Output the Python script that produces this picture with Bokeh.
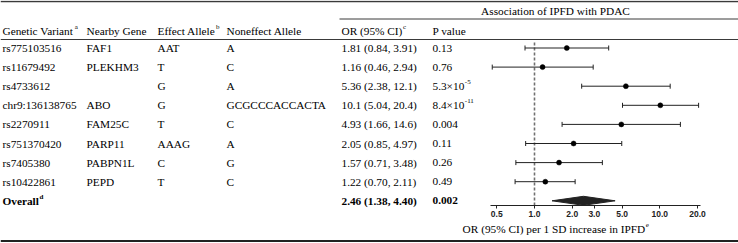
from bokeh.plotting import figure
from bokeh.models import Range1d, LogScale, LogAxis, FixedTicker, PrintfTickFormatter
from bokeh.core.properties import value
from bokeh.embed import file_html
from bokeh.resources import INLINE

# ---------------- data ----------------
variants = ["rs775103516", "rs11679492", "rs4733612", "chr9:136138765",
            "rs2270911", "rs751370420", "rs7405380", "rs10422861"]
genes = ["FAF1", "PLEKHM3", "", "ABO", "FAM25C", "PARP11", "PABPN1L", "PEPD"]
effect_allele = ["AAT", "T", "G", "G", "T", "AAAG", "C", "T"]
noneffect_allele = ["A", "C", "A", "GCGCCCACCACTA", "C", "A", "G", "C"]
odds_ratio = [1.81, 1.16, 5.36, 10.1, 4.93, 2.05, 1.57, 1.22]
ci_low = [0.84, 0.46, 2.38, 5.04, 1.66, 0.85, 0.71, 0.70]
ci_high = [3.91, 2.94, 12.1, 20.4, 14.6, 4.97, 3.48, 2.11]
p_mantissa = ["0.13", "0.76", "5.3\u00d710", "8.4\u00d710", "0.004", "0.11", "0.26", "0.49"]
p_exponent = ["", "", "-5", "-11", "", "", "", ""]
overall_or = 2.46
overall_low = 1.38
overall_high = 4.40
overall_p = "0.002"
axis_ticks = [0.5, 1.0, 2.0, 3.0, 5.0, 10.0, 20.0]
axis_bounds = (0.446, 21.1)
headers = ["Genetic Variant", "Nearby Gene", "Effect Allele", "Noneffect Allele", "OR (95% CI)", "P value"]
header_sups = ["a", "", "b", "", "c", ""]
group_title = "Association of IPFD with PDAC"
axis_title = "OR (95% CI) per 1 SD increase in IPFD"

# ---------------- layout ----------------
W, H = 738, 243
FONT = "Liberation Serif"
FS = 11.3
col_x = [2, 86, 157, 226, 341, 432]
row_y0, row_dy = 47.5, 19.1
header_y = 30.5
axis_y = 204.5
px_per_dec = 125.3
x_one = 534.0

# Times metrics (1/1000 em) for superscript placement
TW = {' ': 250, '(': 333, ')': 333, ',': 250, '.': 250, ':': 278, '%': 833, '\u00d7': 564,
      'A': 722, 'C': 667, 'D': 722, 'E': 611, 'F': 556, 'G': 722, 'I': 333, 'O': 722,
      'P': 556, 'R': 667, 'S': 556, 'V': 722,
      'a': 444, 'c': 444, 'd': 500, 'e': 444, 'f': 333, 'i': 278, 'l': 278, 'n': 500,
      'o': 500, 'p': 500, 'r': 333, 's': 389, 't': 278, 'u': 500, 'v': 500, 'w': 722,
      'h': 500, 'y': 500}
TWB = {'O': 778, 'v': 500, 'e': 444, 'r': 444, 'a': 500, 'l': 278}


def tw(s, size=FS, bold=False):
    tot = 0
    for ch in s:
        if ch.isdigit():
            tot += 500
        elif bold and ch in TWB:
            tot += TWB[ch]
        else:
            tot += TW.get(ch, 500)
    return tot * size / 1000.0


def fmt(v):
    return f"{v:.1f}" if v >= 10 else f"{v:.2f}"


n = len(variants)
ys = [row_y0 + row_dy * i for i in range(n)]
y_over = row_y0 + row_dy * n

p = figure(width=W, height=H, output_backend="svg", toolbar_location=None,
           x_range=Range1d(0, W), y_range=Range1d(H, 0), min_border=0,
           x_axis_type=None, y_axis_type=None)
p.outline_line_color = None
p.background_fill_color = "white"
p.border_fill_color = "white"

p.extra_x_ranges = {"or": Range1d(10 ** (-x_one / px_per_dec), 10 ** ((W - x_one) / px_per_dec))}
p.extra_x_scales = {"or": LogScale()}

# rules
LC = "#3a3a3a"
p.segment(x0=[0], x1=[W], y0=[1], y1=[1], line_color=LC, line_width=1.5)
p.segment(x0=[339], x1=[W], y0=[18.5], y1=[18.5], line_color=LC, line_width=1)
p.segment(x0=[0], x1=[W], y0=[39], y1=[39], line_color=LC, line_width=1)
p.segment(x0=[0], x1=[W], y0=[240.5], y1=[240.5], line_color="#222", line_width=2)

txt = dict(text_font=value(FONT), text_font_size=f"{FS}px", text_baseline="middle",
           text_color="black")
sup = dict(text_font=value(FONT), text_font_size="7px", text_baseline="middle",
           text_color="black")

# group title
p.text(x=[555], y=[10], text=[group_title], text_align="center", **txt)

# header row
p.text(x=col_x, y=[header_y] * len(headers), text=headers, text_align="left", **txt)
sx = [col_x[i] + tw(headers[i]) + 0.5 for i in range(len(headers)) if header_sups[i]]
st = [s for s in header_sups if s]
p.text(x=sx, y=[header_y - 4] * len(sx), text=st, text_align="left", **sup)

# body
or_text = [f"{fmt(o)} ({fmt(l)}, {fmt(h)})" for o, l, h in zip(odds_ratio, ci_low, ci_high)]
for ci, col in enumerate([variants, genes, effect_allele, noneffect_allele, or_text, p_mantissa]):
    p.text(x=[col_x[ci]] * n, y=ys, text=col, text_align="left", **txt)
ex = [col_x[5] + tw(m) + 0.5 for m, e in zip(p_mantissa, p_exponent) if e]
ey = [y - 4 for y, e in zip(ys, p_exponent) if e]
et = [e for e in p_exponent if e]
p.text(x=ex, y=ey, text=et, text_align="left", **sup)

# overall row
bold = dict(txt, text_font_style="bold")
p.text(x=[col_x[0], col_x[4], col_x[5]], y=[y_over] * 3,
       text=["Overall", f"{fmt(overall_or)} ({fmt(overall_low)}, {fmt(overall_high)})", overall_p],
       text_align="left", **bold)
p.text(x=[col_x[0] + tw("Overall", bold=True) + 0.5], y=[y_over - 4], text=["d"],
       text_align="left", text_font_style="bold", **sup)

# axis title
at_w = tw(axis_title) + tw("e", 7)
at_x = 555 - at_w / 2
p.text(x=[at_x], y=[228], text=[axis_title], text_align="left", **txt)
p.text(x=[at_x + tw(axis_title) + 0.5], y=[224], text=["e"], text_align="left", **sup)

# forest plot
p.segment(x0=[1.0], x1=[1.0], y0=[42], y1=[axis_y], x_range_name="or",
          line_color="#707070", line_width=1.6, line_dash="3 2")
p.segment(x0=ci_low, x1=ci_high, y0=ys, y1=ys, x_range_name="or", line_color="#222", line_width=1)
p.segment(x0=ci_low, x1=ci_low, y0=[y - 2.5 for y in ys], y1=[y + 2.5 for y in ys],
          x_range_name="or", line_color="#222", line_width=1)
p.segment(x0=ci_high, x1=ci_high, y0=[y - 2.5 for y in ys], y1=[y + 2.5 for y in ys],
          x_range_name="or", line_color="#222", line_width=1)
p.scatter(x=odds_ratio, y=ys, x_range_name="or", size=5, color="black", line_width=0.5)
p.patch(x=[overall_low, overall_or, overall_high, overall_or],
        y=[y_over, y_over - 4.5, y_over, y_over + 4.5], x_range_name="or",
        fill_color="#222", line_color="#222")

ax = LogAxis(x_range_name="or", fixed_location=axis_y, bounds=axis_bounds,
             ticker=FixedTicker(ticks=axis_ticks, minor_ticks=[]),
             formatter=PrintfTickFormatter(format="%.1f"))
ax.major_tick_out = 3
ax.major_tick_in = 0
ax.minor_tick_in = 0
ax.minor_tick_out = 0
ax.axis_line_color = "#222"
ax.major_tick_line_color = "#222"
ax.major_label_text_font = "Liberation Sans"
ax.major_label_text_font_size = "8.5px"
ax.major_label_text_font_style = "bold"
ax.major_label_text_color = "#222"
ax.major_label_standoff = 3
p.add_layout(ax, "below")

open("out.html", "w").write(file_html(p, INLINE))
